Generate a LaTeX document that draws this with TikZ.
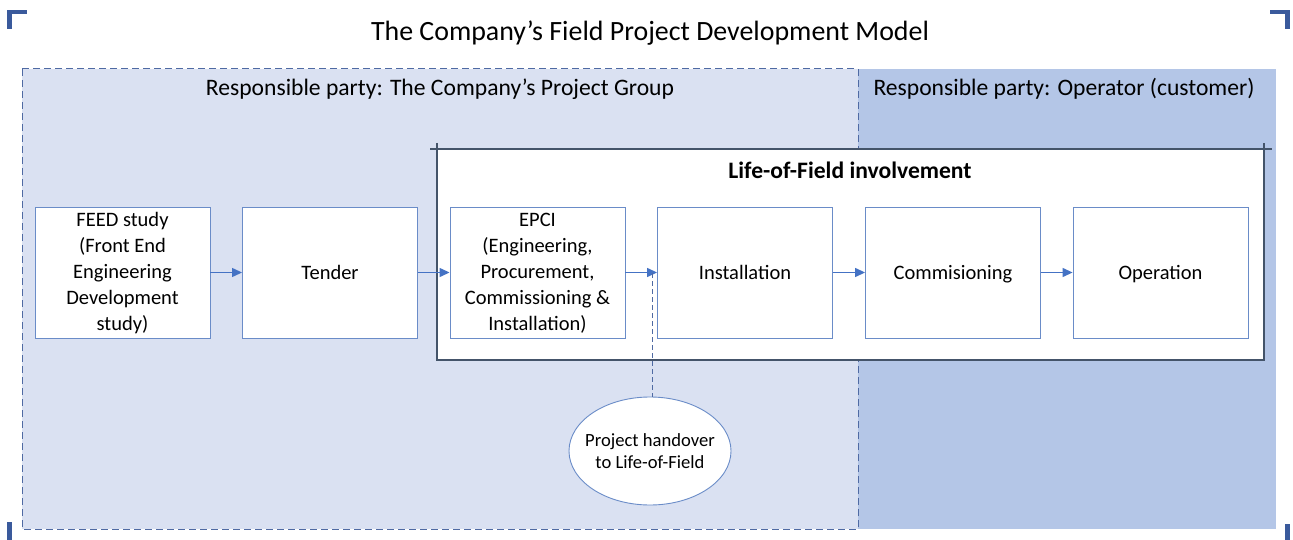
\documentclass[tikz,border=0pt]{standalone}
\usepackage{fontspec}
\setmainfont{Carlito}
\usetikzlibrary{shapes.geometric,arrows.meta}
\definecolor{lightzone}{HTML}{DAE1F2}
\definecolor{darkzone}{HTML}{B4C6E7}
\definecolor{zoneedge}{HTML}{4F6AA3}
\definecolor{frameedge}{HTML}{44546A}
\definecolor{boxedge}{HTML}{6A8CC8}
\definecolor{flow}{HTML}{4472C4}
\definecolor{cornermark}{HTML}{3A5A9C}
\tikzset{
  stagebox/.style={draw=boxedge, line width=0.9pt, fill=white, minimum width=175pt,
    minimum height=131pt, inner sep=0pt, align=center, font=\fontsize{20.5}{26}\selectfont},
  onelinebox/.style={stagebox, text height=13.2pt, text depth=0pt},
  flowarrow/.style={draw=flow, line width=1.3pt, -{Triangle[length=10pt,width=9pt]}},
  zonelabel/.style={font=\fontsize{23.6}{28}\selectfont, anchor=center},
  corner/.style={draw=cornermark, line width=4.5pt}
}
\begin{document}
\begin{tikzpicture}[x=1pt,y=-1pt]
\useasboundingbox (0,0) rectangle (1293,540);
\fill[white] (0,0) rectangle (1293,540);

% corner marks
\draw[corner] (9.5,29) -- (9.5,12) -- (27,12);
\draw[corner] (1270,12) -- (1287.5,12) -- (1287.5,29);
\draw[corner] (9.5,522) -- (9.5,540);
\draw[corner] (1287.5,524) -- (1287.5,540);

% title
\node[font=\fontsize{27.9}{32}\selectfont] (title) at (650,33) {The Company’s Field Project Development Model};

% responsibility zones
\fill[darkzone] (858,69) rectangle (1276,529);
\draw[zoneedge, fill=lightzone, line width=1pt, dash pattern=on 7pt off 4pt] (22,69) rectangle (858,529);
\node[zonelabel] (ownlabel) at (440,89) {Responsible party: The Company’s Project Group};
\node[zonelabel] (oplabel) at (1064,89) {Responsible party: Operator (customer)};

% Life-of-Field frame
\fill[white] (437,149) rectangle (1264,360);
\draw[frameedge, line width=1.3pt] (430,149) -- (1272,149);
\draw[frameedge, line width=1.3pt] (437,143) -- (437,360) -- (1264,360) -- (1264,143);
\node[font=\bfseries\fontsize{23.6}{28}\selectfont] (lof) at (850,170) {Life-of-Field involvement};

% stages
\coordinate (row) at (0,272.5);
\node[stagebox] (feed) at (122.5,273) {FEED study\\(Front End\\Engineering\\Development\\study)};
\node[onelinebox] (tender) at (330,272.5) {Tender};
\node[stagebox] (epci) at (537.5,273) {EPCI\\(Engineering,\\Procurement,\\Commissioning \&\\Installation)};
\node[onelinebox] (inst) at (745,272.5) {Installation};
\node[onelinebox] (comm) at (953,272.5) {Commisioning};
\node[onelinebox] (oper) at (1160.5,272.5) {Operation};

\draw[flowarrow] (feed.east |- row) -- (tender.west |- row);
\draw[flowarrow] (tender.east |- row) -- (epci.west |- row);
\draw[flowarrow] (epci.east |- row) -- (inst.west |- row);
\draw[flowarrow] (inst.east |- row) -- (comm.west |- row);
\draw[flowarrow] (comm.east |- row) -- (oper.west |- row);

% handover milestone
\coordinate (handover) at (652,273);
\node[ellipse, draw=boxedge, line width=0.9pt, fill=white, minimum width=162pt, minimum height=108pt,
  inner xsep=-20pt, inner ysep=0pt, align=center, font=\fontsize{18.6}{22}\selectfont] (hand) at (650,451)
  {Project handover\\to Life-of-Field};
\draw[zoneedge, line width=1pt, dash pattern=on 5pt off 3pt] (handover) -- (hand.north -| handover);
\end{tikzpicture}
\end{document}
